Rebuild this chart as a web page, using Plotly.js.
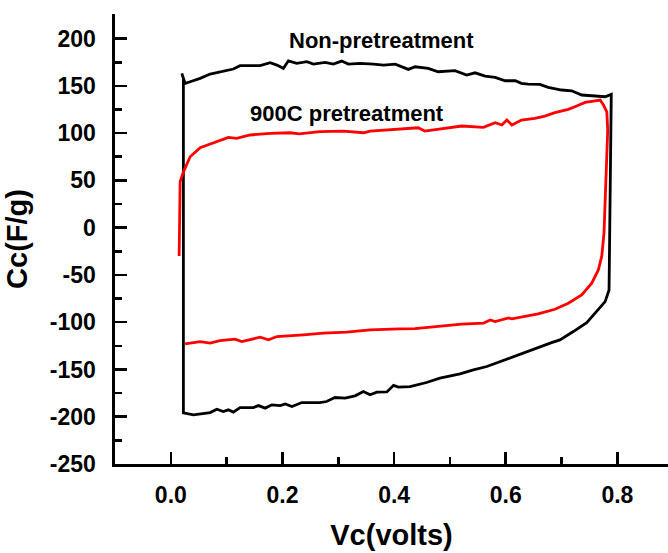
<!DOCTYPE html>
<html>
<head>
<meta charset="utf-8">
<script src="https://cdn.plot.ly/plotly-3.0.1.min.js"></script>
<style>html,body{margin:0;padding:0;background:#fff;}#chart{width:668px;height:553px;}</style>
</head>
<body>
<div id="chart"></div>
<script>
// Non-pretreatment CV loop (black), path order
const nonPreX = [0.0197,0.0256,0.0346,0.0525,0.0704,0.0824,0.094,0.112,0.124,0.142,0.160,0.178,0.190,0.2017,0.2106,0.2256,0.2436,0.2554,0.2763,0.291,0.306,0.318,0.339,0.363,0.381,0.402,0.4255,0.4377,0.461,0.479,0.509,0.530,0.545,0.563,0.581,0.599,0.617,0.628,0.640,0.661,0.676,0.700,0.718,0.736,0.754,0.778,0.789,
  0.788,0.786,0.785,0.778,0.763,0.745,0.721,0.697,0.682,0.655,0.6255,0.5956,0.566,0.542,0.518,0.482,0.458,0.4286,0.4076,0.399,0.387,0.369,0.357,0.345,0.330,0.312,0.294,0.279,0.267,0.2346,0.217,0.205,0.196,0.181,0.169,0.157,0.148,0.124,0.112,0.103,0.094,0.0824,0.0704,0.0405,0.0256,0.0225,0.0225,0.0197];
const nonPreY = [163.2,152.6,154.3,157.9,162.5,163.9,166,167.8,171.3,171,171.3,174.4,172,168.5,176.5,173.8,175.5,173,174.8,173,176.2,173,173.8,173,172,173,167.4,170.2,168.5,164.9,166,161.4,163.8,160.4,159,155.4,155.4,152.6,151.9,151.5,148.4,145.6,144.8,140.3,139.5,138.5,141,
  100,0,-66,-78.2,-88.8,-100.4,-109.9,-118.7,-121.6,-127.5,-133.5,-140.6,-146.9,-150.4,-154.7,-159.2,-163.8,-168.1,-168.7,-166.8,-173.8,-174,-176.8,-173.4,-177.9,-180.4,-179.7,-183.9,-185,-185,-189.2,-186.4,-188.2,-187.4,-190.9,-188.2,-190.3,-190.3,-195.1,-192.7,-194.5,-192,-195.6,-198,-196.9,-196,158,163.2];

// 900C pretreatment CV curve (red), path order
const preX = [0.0149,0.0167,0.0226,0.0346,0.0525,0.0763,0.103,0.118,0.142,0.178,0.2136,0.230,0.267,0.309,0.345,0.357,0.387,0.410,0.443,0.455,0.479,0.521,0.560,0.581,0.593,0.602,0.611,0.628,0.652,0.670,0.688,0.712,0.727,0.742,0.760,0.769,0.775,0.781,0.7826,0.7796,0.776,0.772,0.7658,0.754,0.736,0.712,0.688,0.658,0.628,0.611,0.605,0.590,0.581,0.572,0.560,0.521,0.497,0.473,0.4375,0.410,0.357,0.315,0.273,0.2375,0.190,0.175,0.160,0.127,0.115,0.088,0.0704,0.0525,0.0256];
const preY = [-29.9,48.6,59,75,84.5,90,95.5,94.5,98,99.8,100.4,99.2,101.5,102.2,100.4,102.2,103.3,104,105.7,102.2,104.3,107.5,106.1,111,108.6,113.8,108.6,113.8,115.6,118,121.6,125.1,128.6,132.5,134.2,135,129.7,122.6,103.3,60,-5.6,-30,-44.7,-58.8,-71.1,-80,-86.3,-91.2,-94.1,-96.5,-95.5,-97.6,-99.4,-97.6,-101.1,-102.1,-103.6,-104.7,-106.8,-107,-108.1,-110.6,-111.6,-113.4,-115.2,-118.7,-115.9,-120.5,-118,-119.4,-122.2,-120.5,-122.9];

const labels = ["Non-pretreatment", "900C pretreatment"];
const xTickVals = [0.0, 0.2, 0.4, 0.6, 0.8];
const xTickText = ["0.0", "0.2", "0.4", "0.6", "0.8"];
const yTickVals = [-250, -200, -150, -100, -50, 0, 50, 100, 150, 200];
const yTickText = ["-250", "-200", "-150", "-100", "-50", "0", "50", "100", "150", "200"];

const FONT = "Liberation Sans, Arial, sans-serif";

const traces = [
  {x: nonPreX, y: nonPreY, mode: "lines", line: {color: "#000000", width: 2.8}, name: labels[0], hoverinfo: "skip"},
  {x: preX, y: preY, mode: "lines", line: {color: "#ff0000", width: 2.8}, name: labels[1], hoverinfo: "skip"}
];

const layout = {
  width: 668, height: 553,
  margin: {l: 115, r: 0, t: 14, b: 89, pad: 0},
  paper_bgcolor: "#ffffff", plot_bgcolor: "#ffffff",
  showlegend: false,
  font: {family: FONT, color: "#000000"},
  xaxis: {
    range: [-0.1, 0.8906], tickvals: xTickVals, ticktext: xTickText,
    showgrid: false, zeroline: false, showline: true, linecolor: "#000", linewidth: 2.6,
    ticks: "inside", ticklen: 12, tickwidth: 2.6, tickcolor: "#000",
    minor: {dtick: 0.1, tick0: 0, ticks: "inside", ticklen: 7, tickwidth: 2.6, tickcolor: "#000", showgrid: false},
    tickfont: {family: FONT, size: 23, color: "#000", weight: "bold"},
    ticklabelstandoff: 9,
    title: {text: "<b>Vc(volts)</b>", font: {family: FONT, size: 29, color: "#000"}, standoff: 18}
  },
  yaxis: {
    range: [-250, 226], tickvals: yTickVals, ticktext: yTickText,
    showgrid: false, zeroline: false, showline: true, linecolor: "#000", linewidth: 2.6,
    ticks: "inside", ticklen: 12, tickwidth: 2.6, tickcolor: "#000",
    minor: {dtick: 25, tick0: 0, ticks: "inside", ticklen: 7, tickwidth: 2.6, tickcolor: "#000", showgrid: false},
    tickfont: {family: FONT, size: 23, color: "#000", weight: "bold"},
    ticklabelstandoff: 12,
    title: {text: "<b>Cc(F/g)</b>", font: {family: FONT, size: 29, color: "#000"}, standoff: 14}
  },
  annotations: [
    {x: 0.378, y: 198.4, xref: "x", yref: "y", text: "<b>" + labels[0] + "</b>", showarrow: false, font: {family: FONT, size: 22, color: "#000"}},
    {x: 0.315, y: 121.2, xref: "x", yref: "y", text: "<b>" + labels[1] + "</b>", showarrow: false, font: {family: FONT, size: 22, color: "#000"}}
  ]
};

Plotly.newPlot("chart", traces, layout, {staticPlot: true, displayModeBar: false});
</script>
</body>
</html>
